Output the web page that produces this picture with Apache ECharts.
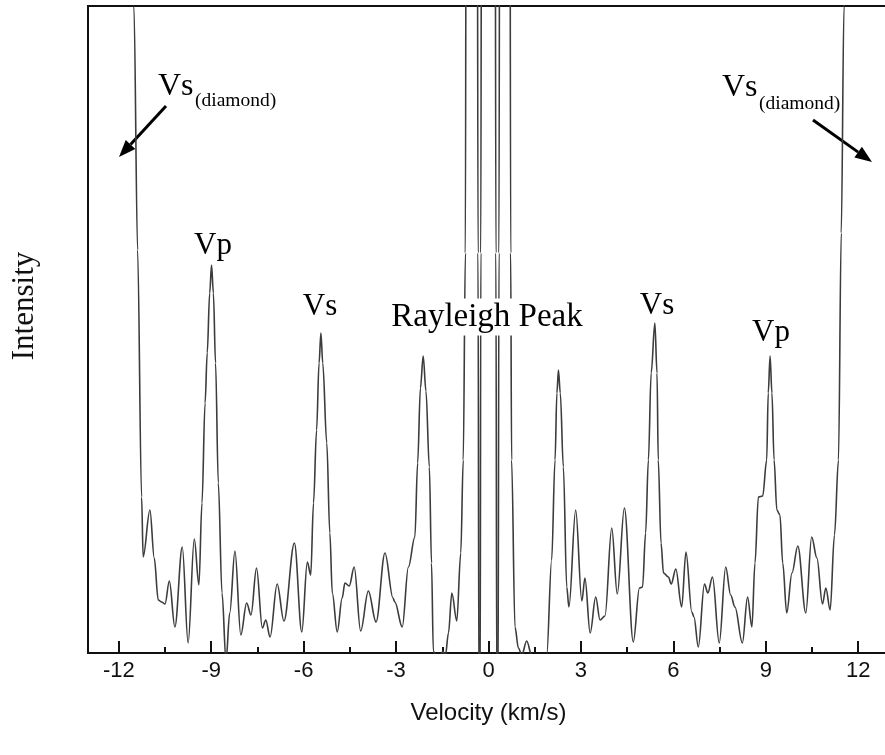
<!DOCTYPE html>
<html>
<head>
<meta charset="UTF-8">
<title>Brillouin spectrum</title>
<script src="https://cdn.jsdelivr.net/npm/echarts@6/dist/echarts.min.js"></script>
<style>
  html, body { margin: 0; padding: 0; background: #fff; }
  #chart { width: 885px; height: 755px; }
</style>
</head>
<body>
<div id="chart"></div>
<script>
// velocity (km/s) and intensity (arbitrary units)
const velocity = [
  -11.62, -11.51, -11.39, -11.26, -11.21, -10.99, -10.85, -10.72, -10.61, -10.50,
  -10.36, -10.18, -9.94, -9.75, -9.55, -9.40, -9.30, -9.20, -9.13, -9.05,
  -8.99, -8.93, -8.86, -8.77, -8.65, -8.52, -8.40, -8.23, -8.04, -7.85,
  -7.71, -7.53, -7.34, -7.23, -7.09, -6.86, -6.64, -6.30, -6.06, -5.88,
  -5.77, -5.68, -5.58, -5.50, -5.44, -5.38, -5.25, -5.15, -5.07, -4.91,
  -4.75, -4.66, -4.52, -4.36, -4.15, -3.90, -3.65, -3.36, -3.10, -3.04,
  -2.80, -2.60, -2.39, -2.30, -2.21, -2.12, -2.03, -1.92, -1.85, -1.79,
  -1.70, -1.55, -1.48, -1.40, -1.30, -1.19, -1.03, -0.90, -0.82, -0.75,
  -0.72, -0.37, -0.34, -0.31, -0.27, -0.25, -0.22, 0.21, 0.24, 0.27,
  0.31, 0.34, 0.37, 0.69, 0.72, 0.75, 0.86, 0.97, 1.08, 1.24,
  1.40, 1.89, 2.05, 2.16, 2.22, 2.27, 2.33, 2.43, 2.54, 2.61,
  2.83, 3.03, 3.13, 3.30, 3.48, 3.62, 3.78, 4.00, 4.18, 4.41,
  4.70, 4.90, 5.00, 5.10, 5.19, 5.28, 5.40, 5.47, 5.51, 5.60,
  5.68, 5.84, 5.93, 6.08, 6.27, 6.41, 6.60, 6.67, 6.81, 7.01,
  7.12, 7.27, 7.49, 7.70, 7.86, 8.00, 8.24, 8.41, 8.55, 8.65,
  8.76, 8.90, 9.03, 9.08, 9.14, 9.20, 9.27, 9.36, 9.46, 9.55,
  9.68, 9.85, 10.04, 10.30, 10.49, 10.66, 10.84, 10.95, 11.09, 11.23,
  11.36, 11.45, 11.54, 11.62
];
const intensity = [
  1000, 647, 403, 156, 96, 143, 95, 53, 51, 49,
  72, 26, 106, 10, 114, 68, 150, 250, 300, 360,
  388, 360, 290, 170, 60, -8, 40, 102, 18, 50,
  38, 85, 25, 33, 16, 69, 32, 110, 21, 91,
  78, 150, 223, 290, 320, 290, 210, 120, 60, 21,
  55, 70, 67, 86, 22, 62, 31, 100, 55, 51,
  26, 86, 116, 190, 265, 297, 262, 186, 90, 2,
  -4, -2, 2, -3, 20, 60, 32, 100, 193, 400,
  1000, 1000, 400, -50, -50, 400, 1000, 1000, 400, -50,
  -50, 400, 1000, 1000, 400, 193, 26, 5, -2, 12,
  -2, -2, 93, 193, 260, 283, 260, 186, 66, 46,
  143, 52, 75, 20, 56, 33, 37, 125, 59, 145,
  11, 65, 66, 120, 193, 280, 330, 280, 193, 110,
  80, 76, 69, 84, 46, 101, 41, 36, 6, 69,
  60, 76, 10, 86, 58, 46, 10, 56, 26, 90,
  156, 157, 193, 260, 297, 260, 193, 143, 138, 90,
  40, 80, 107, 40, 116, 95, 49, 65, 43, 118,
  193, 420, 647, 1000
];
const majorTicks = [-12, -9, -6, -3, 0, 3, 6, 9, 12];
const minorTicks = [-10.5, -7.5, -4.5, -1.5, 1.5, 4.5, 7.5, 10.5];

const chart = echarts.init(document.getElementById('chart'));

const serif = '"Liberation Serif", "Times New Roman", serif';
const sans = '"Liberation Sans", Arial, sans-serif';

function arrow(x1, y1, x2, y2) {
  const a = Math.atan2(y2 - y1, x2 - x1);
  const L = 17, W = 6.5;
  const bx = x2 - L * Math.cos(a), by = y2 - L * Math.sin(a);
  return [
    { type: 'line', shape: { x1: x1, y1: y1, x2: bx, y2: by },
      style: { stroke: '#000', lineWidth: 3 } },
    { type: 'polygon',
      shape: { points: [[x2, y2], [bx + W * Math.sin(a), by - W * Math.cos(a)], [bx - W * Math.sin(a), by + W * Math.cos(a)]] },
      style: { fill: '#000' } }
  ];
}

function label(text, x, y, size, align, extra) {
  return { type: 'text', x: x, y: y, z: 10,
    style: Object.assign({ text: text, font: size + 'px ' + serif, fill: '#000',
             align: align || 'center', verticalAlign: 'middle' }, extra || {}) };
}

chart.setOption({
  animation: false,
  grid: {
    left: 88, top: 6, width: 801, bottom: 102,
    outerBoundsMode: 'none',
    show: true, borderColor: '#111', borderWidth: 2
  },
  xAxis: [{
    type: 'value', min: -13, max: 13,
    name: 'Velocity (km/s)', nameLocation: 'middle', nameGap: 48,
    nameMoveOverlap: false,
    nameTextStyle: { fontFamily: sans, fontSize: 24, color: '#111' },
    axisLine: { onZero: false, lineStyle: { color: '#111', width: 2 } },
    axisTick: { inside: true, length: 12, customValues: majorTicks, lineStyle: { color: '#111', width: 2 } },
    axisLabel: { customValues: majorTicks, margin: 7, fontFamily: sans, fontSize: 22, color: '#111',
                 formatter: v => String(v) },
    splitLine: { show: false }
  }, {
    type: 'value', min: -13, max: 13, position: 'bottom',
    axisLine: { show: false },
    axisTick: { inside: true, length: 6, customValues: minorTicks, lineStyle: { color: '#111', width: 2 } },
    axisLabel: { show: false },
    splitLine: { show: false }
  }],
  yAxis: {
    type: 'value', min: 0, max: 647,
    axisLine: { show: true, onZero: false, lineStyle: { color: '#111', width: 2 } },
    axisTick: { show: false },
    axisLabel: { show: false },
    splitLine: { show: false }
  },
  series: [{
    type: 'line',
    data: velocity.map((v, i) => [v, intensity[i]]),
    showSymbol: false,
    smooth: 0.35,
    smoothMonotone: 'x',
    clip: true,
    lineStyle: { color: '#3c3c3c', width: 1.6 }
  }],
  graphic: [
    { type: 'text', x: 25, y: 306, rotation: Math.PI / 2,
      style: { text: 'Intensity', font: '31px ' + serif, fill: '#111', align: 'center', verticalAlign: 'middle' } },
    label('Vs', 158, 87, 32, 'left'),
    label('(diamond)', 195, 101, 19.5, 'left'),
    label('Vs', 722, 88, 32, 'left'),
    label('(diamond)', 759, 104, 19.5, 'left'),
    label('Vp', 213, 246, 31),
    label('Vs', 320, 307, 31),
    label('Rayleigh Peak', 487, 317, 33, 'center', { backgroundColor: '#fff', padding: [3, 2, 1, 2] }),
    label('Vs', 657, 306, 31),
    label('Vp', 771, 333, 31),
    ...arrow(166, 106, 119, 157),
    ...arrow(813, 120, 872, 162)
  ]
});
</script>
</body>
</html>
